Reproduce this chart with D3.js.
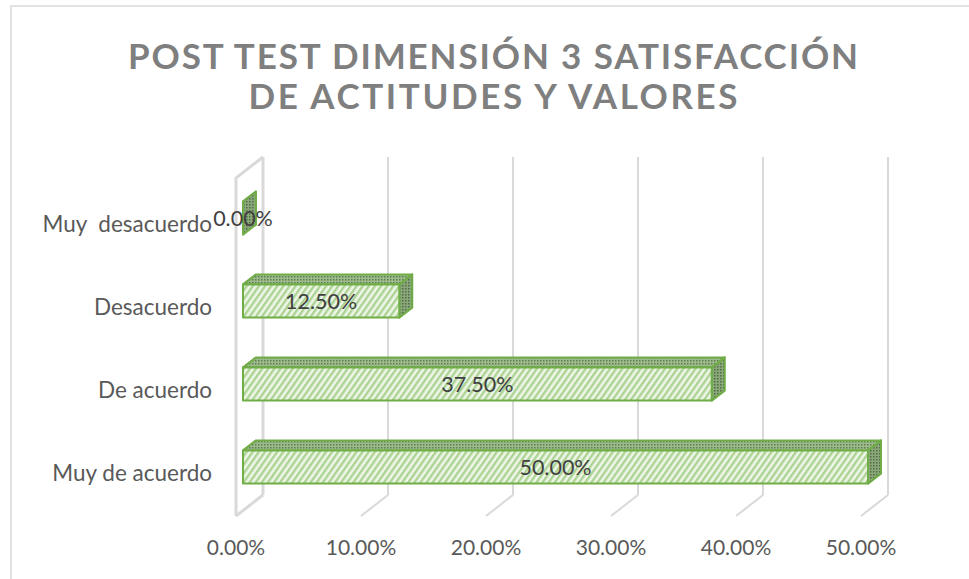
<!DOCTYPE html>
<html>
<head>
<meta charset="utf-8">
<script src="https://cdn.jsdelivr.net/npm/d3@7"></script>
<style>
  body { margin: 0; background: #fff; }
  svg { display: block; }
</style>
</head>
<body>
<div id="chart"></div>
<script>
// data
const categories = ["Muy  desacuerdo", "Desacuerdo", "De acuerdo", "Muy de acuerdo"];
const values = [0.0, 0.125, 0.375, 0.5];
const tickValues = [0, 0.1, 0.2, 0.3, 0.4, 0.5];
const titleLines = ["POST TEST DIMENSIÓN 3 SATISFACCIÓN", "DE ACTITUDES Y VALORES"];

const W = 969, H = 579;
const fmt = d3.format(".2%");

const svg = d3.select("#chart").append("svg")
    .attr("width", W)
    .attr("height", H);

// patterns for the bar faces
const defs = svg.append("defs");
const pFront = defs.append("pattern")
    .attr("id", "hatch")
    .attr("patternUnits", "userSpaceOnUse")
    .attr("width", 5).attr("height", 5)
    .attr("patternTransform", "rotate(35)");
pFront.append("rect").attr("width", 5).attr("height", 5).attr("fill", "#eef6e8");
pFront.append("rect").attr("width", 2.4).attr("height", 5).attr("fill", "#acd393");

function dots(id, bg, fg) {
    const p = defs.append("pattern")
        .attr("id", id)
        .attr("patternUnits", "userSpaceOnUse")
        .attr("width", 3).attr("height", 3);
    p.append("rect").attr("width", 3).attr("height", 3).attr("fill", bg);
    p.append("rect").attr("width", 1.5).attr("height", 1.5).attr("fill", fg);
}
dots("topdots", "#9dbb8a", "#5f7d52");
dots("sidedots", "#8aa879", "#4f6b43");

// chart area border (right and bottom fall outside the picture)
svg.append("rect")
    .attr("x", 11).attr("y", 6)
    .attr("width", W + 20).attr("height", H + 20)
    .attr("fill", "none")
    .attr("stroke", "#d9d9d9")
    .attr("stroke-width", 1.5);

// title
svg.selectAll("text.title")
    .data(titleLines)
    .enter().append("text")
    .attr("class", "title")
    .attr("x", 493)
    .attr("y", (d, i) => 69 + i * 40)
    .attr("text-anchor", "middle")
    .attr("textLength", (d, i) => i === 0 ? 730 : 489)
    .attr("lengthAdjust", "spacing")
    .style("font-family", "Lato, 'Open Sans', sans-serif")
    .style("font-weight", "bold")
    .style("font-size", "35px")
    .style("fill", "#7f7f7f")
    .text(d => d);

// 3D set-up: back wall scale, depth offset for floor and bars
const x = d3.scaleLinear().domain([0, 0.5]).range([263, 888]);
const depthX = -27, depthY = 21;       // back wall -> front edge of floor
const wallTop = 157, wallBottom = 495;
const barFront = -20, barDepth = 13, barRise = 10;

const y = d3.scaleBand()
    .domain(categories)
    .range([176.5, 508.5])
    .paddingInner(0.6)
    .paddingOuter(0.3);

const grid = svg.append("g")
    .attr("stroke", "#d9d9d9")
    .attr("fill", "none");

// gridlines on the back wall and the floor
tickValues.forEach(v => {
    grid.append("line")
        .attr("x1", x(v)).attr("x2", x(v))
        .attr("y1", wallTop).attr("y2", wallBottom)
        .attr("stroke-width", v === 0 ? 3 : 2);
    grid.append("line")
        .attr("x1", x(v)).attr("y1", wallBottom)
        .attr("x2", x(v) + depthX).attr("y2", wallBottom + depthY)
        .attr("stroke-width", v === 0 ? 3 : 2);
});

// left side wall
grid.append("path")
    .attr("stroke-width", 3)
    .attr("d", d3.line()([
        [x(0), wallTop],
        [x(0) + depthX, wallTop + depthY],
        [x(0) + depthX, wallBottom + depthY]
    ]));

// bars
const bars = svg.selectAll("g.bar")
    .data(categories.map((c, i) => ({ c: c, v: values[i] })))
    .enter().append("g")
    .attr("class", "bar")
    .attr("stroke", "#70ad47")
    .attr("stroke-width", 2)
    .attr("stroke-linejoin", "round");

const x0 = d => x(0) + barFront;
const x1 = d => x(d.v) + barFront;
const yT = d => y(d.c);
const yB = d => y(d.c) + y.bandwidth();

bars.append("path")
    .attr("fill", "url(#sidedots)")
    .attr("d", d => d3.line()([
        [x1(d), yT(d)], [x1(d) + barDepth, yT(d) - barRise],
        [x1(d) + barDepth, yB(d) - barRise], [x1(d), yB(d)]
    ]) + "Z");

bars.filter(d => d.v > 0).append("path")
    .attr("fill", "url(#topdots)")
    .attr("d", d => d3.line()([
        [x0(d), yT(d)], [x0(d) + barDepth, yT(d) - barRise],
        [x1(d) + barDepth, yT(d) - barRise], [x1(d), yT(d)]
    ]) + "Z");

bars.filter(d => d.v > 0).append("rect")
    .attr("fill", "url(#hatch)")
    .attr("x", d => x0(d))
    .attr("y", d => yT(d))
    .attr("width", d => x1(d) - x0(d))
    .attr("height", y.bandwidth());

// data labels
svg.selectAll("text.value")
    .data(categories.map((c, i) => ({ c: c, v: values[i] })))
    .enter().append("text")
    .attr("class", "value")
    .attr("x", d => (x0(d) + x1(d)) / 2)
    .attr("y", d => y(d.c) + y.bandwidth() / 2)
    .attr("dy", "0.35em")
    .attr("text-anchor", "middle")
    .style("font-family", "Lato, sans-serif")
    .style("font-size", "21.5px")
    .style("fill", "#404040")
    .text(d => fmt(d.v));

// category labels
svg.selectAll("text.cat")
    .data(categories)
    .enter().append("text")
    .attr("class", "cat")
    .attr("x", 212)
    .attr("y", d => y(d) + y.bandwidth() / 2 + 6)
    .attr("dy", "0.35em")
    .attr("text-anchor", "end")
    .style("font-family", "Lato, sans-serif")
    .style("font-size", "22.5px")
    .style("fill", "#595959")
    .style("white-space", "pre")
    .text(d => d);

// value axis labels along the front edge of the floor
svg.selectAll("text.tick")
    .data(tickValues)
    .enter().append("text")
    .attr("class", "tick")
    .attr("x", d => x(d) + depthX)
    .attr("y", 555)
    .attr("text-anchor", "middle")
    .style("font-family", "Lato, sans-serif")
    .style("font-size", "21px")
    .style("fill", "#595959")
    .text(d => fmt(d));
</script>
</body>
</html>
